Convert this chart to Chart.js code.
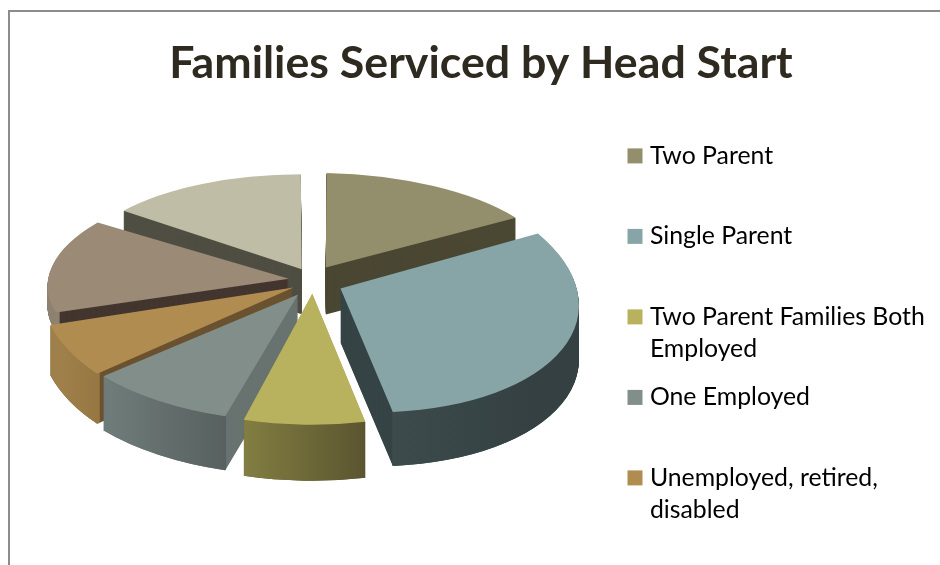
<!DOCTYPE html>
<html><head><meta charset="utf-8">
<style>
html,body{margin:0;padding:0;background:#fff;width:940px;height:565px;overflow:hidden}
#frame{position:absolute;left:8px;top:10px;width:940px;height:600px;border:2px solid #8c8c8c;box-sizing:border-box}
#wrap{position:absolute;left:0;top:0;width:940px;height:565px}
</style>
<script src="https://cdn.jsdelivr.net/npm/chart.js@4"></script>
</head><body>
<div id="frame"></div>
<div id="wrap"><canvas id="c" width="940" height="565"></canvas></div>
<script>
const titleText = 'Families Serviced by Head Start';
const categories = ['Two Parent','Single Parent','Two Parent Families Both Employed','One Employed','Unemployed, retired, disabled','',''];
const legendLines = [['Two Parent',''],['Single Parent',''],['Two Parent Families Both','Employed'],['One Employed',''],['Unemployed, retired,','disabled']];
const values = [15.5, 31, 8, 9.5, 6.7, 14.8, 14.5];
const topColors = ['#938f6d','#87a5a6','#b8b25e','#818e89','#b08c50','#9a8a76','#bfbda6'];
const innerWalls = ['#4a4733','#364446','#5b5630','#687370','#6b5230','#43362f','#4f4e42'];
const rimFrom = ['#4a4733','#3d4b4c','#827d41','#6e7b78','#a0804a','#8f8170','#4f4e42'];
const rimTo   = ['#4a4733','#344041','#5a5530','#565f5e','#93733f','#8b7c6a','#4f4e42'];
const explode = [29, 30, 24, 27, 22, 25, 28];
const tilt    = [0.41,0.515,0.52,0.50,0.54,0.42,0.42];
const reach   = [0.94,0.985,1.0,1.01,1.0,0.985,0.92];
const shear   = [0.02,0.07,0,0,0,-0.03,0];
const lift    = [-3,1,1,3,2,0,-1];
const depth   = [47,54,56,54,50,20,45];
const order   = [6,0,5,4,1,3,2];
const CX = 313, CY = 280, R = 240;

function place(ctx, arc, i, dy){
  ctx.translate(CX, CY + lift[i] + dy);
  ctx.transform(1, shear[i], 0, 1, 0, 0);
  ctx.scale(reach[i], reach[i]*tilt[i]);
  ctx.translate(-arc.x, -arc.y);
}
const pie3d = {
  id:'pie3d',
  afterLayout(chart){
    const t = chart.titleBlock;
    t.left += 11; t.right += 11; t.top = 37; t.bottom = t.top + t.height;
    const l = chart.legend, p = l.options.labels.padding;
    const w = 320, h = 430;
    l.left = 632.5 - p; l.right = l.left + w; l.width = w;
    l.top = 143.5 - p; l.bottom = l.top + h; l.height = h;
  },
  beforeDatasetsDraw(chart){
    const ctx = chart.ctx, arcs = chart.getDatasetMeta(0).data;
    const base = arcs.map(a => a.options);
    for (const i of order){
      const arc = arcs[i];
      const xa = Math.cos(arc.startAngle), xb = Math.cos(arc.endAngle);
      const g = ctx.createLinearGradient(arc.x + R*Math.min(xa,xb), 0, arc.x + R*Math.max(xa,xb) + 1, 0);
      g.addColorStop(0, rimFrom[i]); g.addColorStop(1, rimTo[i]);
      const inner0 = arc.innerRadius;
      arc.options = Object.assign({}, base[i], {backgroundColor: innerWalls[i], borderWidth:0});
      for (let d = depth[i]; d >= 1; d--){
        ctx.save(); place(ctx, arc, i, d); arc.draw(ctx); ctx.restore();
      }
      arc.options = Object.assign({}, base[i], {backgroundColor: g, borderWidth:0});
      arc.innerRadius = arc.outerRadius - 4;
      for (let d = depth[i]; d >= 1; d--){
        ctx.save(); place(ctx, arc, i, d); arc.draw(ctx); ctx.restore();
      }
      arc.innerRadius = inner0;
      arc.options = Object.assign({}, base[i], {backgroundColor: topColors[i], borderWidth:0});
      ctx.save(); place(ctx, arc, i, 0); arc.draw(ctx); ctx.restore();
      arc.options = base[i];
    }
    return false;
  }
};
new Chart(document.getElementById('c'), {
  type:'pie',
  data:{labels:categories, datasets:[{data:values, backgroundColor:topColors, borderWidth:0, offset:explode.map(v=>v*4), radius:R}]},
  plugins:[pie3d],
  options:{
    responsive:false, animation:false, radius:R,
    plugins:{
      tooltip:{enabled:false},
      title:{display:true, text:titleText, color:'#2f2a20', align:'center', font:{family:'Lato', size:44.7, weight:'bold', lineHeight:1.2}, padding:0},
      legend:{position:'right', align:'start',
        labels:{
          color:'#332e25', font:{family:'Lato', size:24.8, lineHeight:'32px'}, padding:16.5, boxWidth:5, boxHeight:5,
          generateLabels(){ return legendLines.map((t,i)=>({text:t, fillStyle:topColors[i], strokeStyle:topColors[i], lineWidth:10, hidden:false, index:i})); }
        }}
    }
  }
});
</script>
</body></html>
